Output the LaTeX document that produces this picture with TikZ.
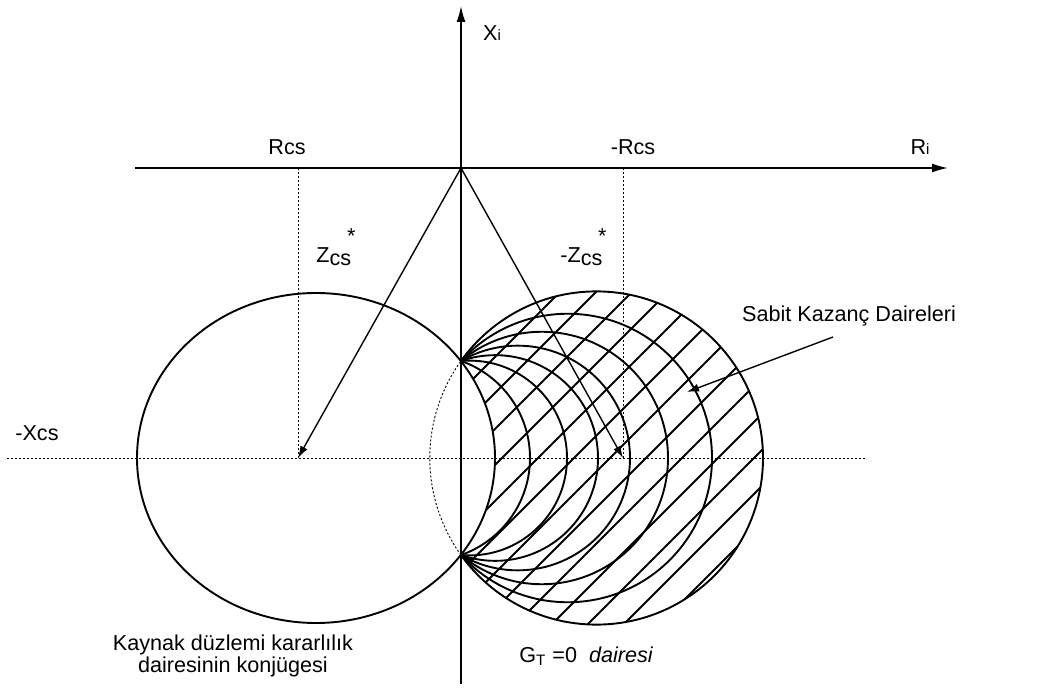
\documentclass[tikz,border=0pt]{standalone}
\usepackage{fontspec}
\setmainfont{Liberation Sans}
\usetikzlibrary{arrows.meta}

\begin{document}
\begin{tikzpicture}[x=0.5pt,y=-0.5pt,
  lbl/.style={inner sep=0pt,font=\fontsize{10.8}{10}\selectfont},
  axis/.style={line width=0.8pt,-{Latex[length=8pt,width=4.5pt]}},
  vec/.style={line width=0.7pt,-{Latex[length=6pt,width=4pt]}},
  dotline/.style={line width=0.45pt,dash pattern=on 1pt off 1pt},
  circ/.style={line width=0.95pt},
  hatch/.style={line width=0.9pt}]
\useasboundingbox (0,0) rectangle (1049,689);
\coordinate (o) at (461,168);
\coordinate (zl) at (298,458);
\coordinate (zr) at (623,458);
\coordinate (el) at (316,458);
\coordinate (gt) at (596.4,458);
\coordinate (rl) at (135,168);
\coordinate (rr) at (948,168);
\coordinate (xb) at (461,684);
\coordinate (xt) at (461,6);
\coordinate (hl) at (7,458);
\coordinate (hr) at (865,458);
% hatched area
\begin{scope}
\clip (gt) circle[radius=166.6];
\foreach \k in {-4,...,9}
  \draw[hatch] ({310+36*\k},650) -- ({710+36*\k},250);
\fill[white] (el) ellipse[x radius=179,y radius=165];
\end{scope}
% circles
\draw[dotline] (gt) circle[radius=166.6];
\draw[circ] (el) ellipse[x radius=179,y radius=165];
\begin{scope}
\clip (461,250) rectangle (800,650);
\draw[circ] (gt) circle[radius=166.6];
\foreach \d in {69,106,137,169,207,251}{
  \pgfmathsetmacro\c{\d/2-4704.5/\d}
  \draw[circ] ({461+\c},458) circle[radius={\d-\c}];
}
\end{scope}
% axes and guides
\draw[dotline] (hl) -- (hr);
\draw[dotline] (zl |- o) -- (zl);
\draw[dotline] (zr |- o) -- (zr);
\draw[axis] (rl) -- (rr);
\draw[axis] (xb) -- (xt);
\draw[vec] (o) -- (zl);
\draw[vec] (o) -- (zr);
% labels
\node[lbl] (xi) at (492,33) {X{\fontsize{7.5}{8}\selectfont i}};
\node[lbl] (rcs) at (287,147) {Rcs};
\node[lbl] (mrcs) at (633,147) {-Rcs};
\node[lbl] (ri) at (920,147) {R{\fontsize{7.5}{8}\selectfont i}};
\node[lbl,anchor=base west] (zcs) at (316,263) {Z\raisebox{-1.5pt}{cs}};
\node[lbl,anchor=base east] (zst) at (356,244) {*};
\node[lbl,anchor=base west] (mzcs) at (560,263) {-Z\raisebox{-1.5pt}{cs}};
\node[lbl,anchor=base east] (mzst) at (607,244) {*};
\node[lbl,anchor=base west] (xcs) at (15,440) {-Xcs};
\node[lbl,align=center] (kd) at (233,656) {Kaynak düzlemi kararlılık\\dairesinin konjügesi};
\node[lbl,anchor=base west] (g0) at (519,662) {G\textsubscript{T} =0~ \textit{dairesi}};
\node[lbl] (sk) at (849,316) {Sabit Kazanç Daireleri};
\coordinate (skt) at (833,337);
\coordinate (skh) at (687,392);
\draw[vec] (skt) -- (skh);
\end{tikzpicture}
\end{document}
